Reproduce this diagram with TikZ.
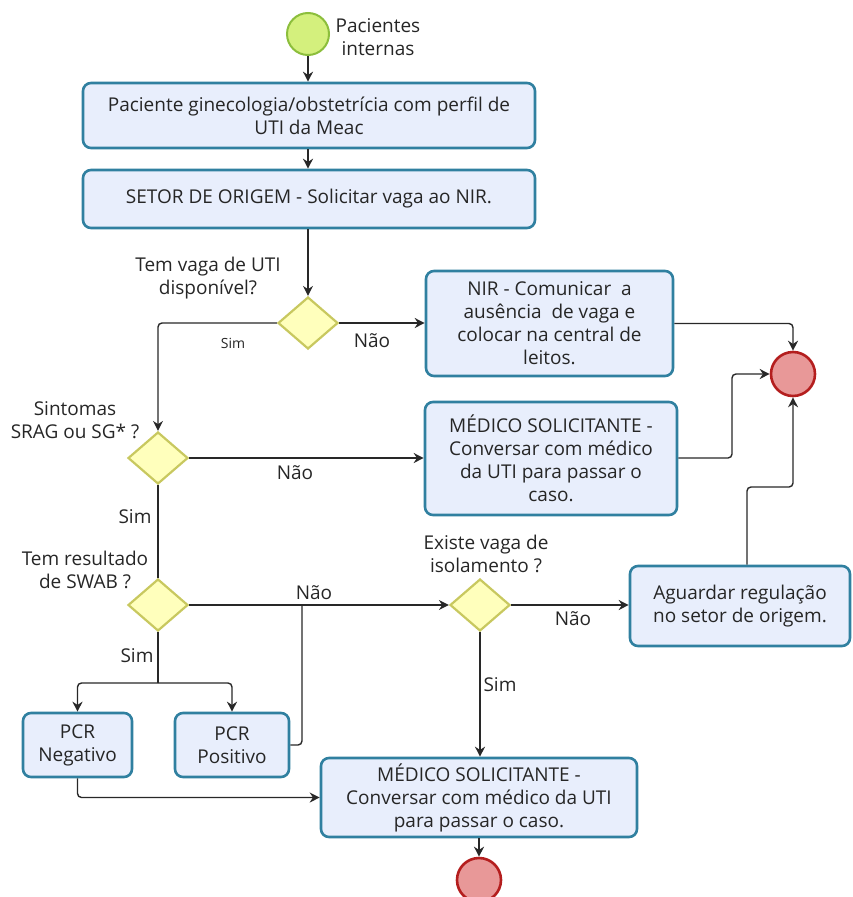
\documentclass[tikz,border=0pt]{standalone}
\usepackage{fontspec}
\setmainfont{Open Sans}
\usetikzlibrary{shapes.geometric,arrows.meta,calc}
\definecolor{boxfill}{RGB}{232,238,252}
\definecolor{boxline}{RGB}{48,128,160}
\definecolor{dfill}{RGB}{255,255,188}
\definecolor{dline}{RGB}{200,200,95}
\definecolor{sfill}{RGB}{212,240,125}
\definecolor{sline}{RGB}{140,190,60}
\definecolor{efill}{RGB}{232,152,152}
\definecolor{eline}{RGB}{180,30,30}
\definecolor{conn}{RGB}{40,40,40}
\begin{document}
\begin{tikzpicture}[x=1pt,y=-1pt,
  every node/.style={font=\fontsize{19}{23}\selectfont, text=black!85},
  procbox/.style={draw=boxline, fill=boxfill, line width=2.6pt, rounded corners=8pt, align=center, inner sep=2pt},
  decision/.style={diamond, draw=dline, fill=dfill, line width=2.2pt, minimum width=60pt, minimum height=52pt, inner sep=0pt},
  startev/.style={circle, draw=sline, fill=sfill, line width=2pt, minimum size=42pt, inner sep=0pt},
  endev/.style={circle, draw=eline, fill=efill, line width=2.6pt, minimum size=44pt, inner sep=0pt},
  lbl/.style={align=center, inner sep=0pt},
  small/.style={font=\fontsize{14}{17}\selectfont},
  flow/.style={draw=conn, line width=1.4pt, rounded corners=4pt},
  arr/.style={flow, -{Stealth[length=10pt,width=10pt]}}
]
\useasboundingbox (0,0) rectangle (853,897);

% nodes
\node[startev] (start) at (308,34) {};
\node[lbl] (startlbl) at (378,37) {Pacientes\\internas};
\node[procbox, minimum width=452pt, minimum height=65pt] (b1) at (309,115.5) {Paciente ginecologia/obstetrícia com perfil de\\UTI da Meac};
\node[procbox, minimum width=452pt, minimum height=58pt] (b2) at (309,199) {SETOR DE ORIGEM - Solicitar vaga ao NIR.};
\node[decision] (d1) at (308,323) {};
\node[lbl] (q1) at (208,278) {Tem vaga de UTI\\disponível?};
\node[procbox, minimum width=247pt, minimum height=105pt] (nir) at (549.5,323.5) {NIR - Comunicar \ a\\ausência \ de vaga e\\colocar na central de\\leitos.};
\node[endev] (end1) at (793,374) {};
\node[decision] (d2) at (158,458) {};
\node[lbl] (q2) at (75,420) {Sintomas\\SRAG ou SG* ?};
\node[procbox, minimum width=252pt, minimum height=113pt] (med1) at (551,458.5) {MÉDICO SOLICITANTE -\\Conversar com médico\\da UTI para passar o\\caso.};
\node[decision] (d3) at (158,605) {};
\node[lbl] (q3) at (85,570) {Tem resultado\\de SWAB ?};
\node[procbox, minimum width=109pt, minimum height=64pt] (pneg) at (77.5,745) {PCR\\Negativo};
\node[procbox, minimum width=114pt, minimum height=64pt] (ppos) at (232,745) {PCR\\Positivo};
\node[decision] (d4) at (480,605) {};
\node[lbl] (q4) at (486,554) {Existe vaga de\\isolamento ?};
\node[procbox, minimum width=220pt, minimum height=80pt] (agu) at (740,606) {Aguardar regulação\\no setor de origem.};
\node[procbox, minimum width=316pt, minimum height=79pt] (med2) at (479,797.5) {MÉDICO SOLICITANTE -\\Conversar com médico da UTI\\para passar o caso.};
\node[endev] (end2) at (479,880) {};

% connector labels
\node[lbl, small] (s1) at (233,343) {Sim};
\node[lbl] (n1) at (372,341) {Não};
\node[lbl] (n2) at (295,473) {Não};
\node[lbl] (s2) at (135,517) {Sim};
\node[lbl] (n3) at (314,593) {Não};
\node[lbl] (s3) at (137,656) {Sim};
\node[lbl] (n4) at (573,619) {Não};
\node[lbl] (s4) at (500,685) {Sim};

% helper coordinates
\coordinate (fork) at (158,683);
\coordinate (join) at (302,605);
\coordinate (m1turn) at (732,458);
\coordinate (aguturn) at (747,487);

% connectors
\draw[arr] (start.south) -- (start.south |- b1.north);
\draw[arr] (b1.south -| start) -- (b2.north -| start);
\draw[arr] (b2.south -| d1) -- (d1.north);
\draw[arr] (d1.west) -| (d2.north);
\draw[arr] (d1.east) -- (nir.west |- d1.east);
\draw[arr] (nir.east) -| (end1.north);
\draw[arr] (d2.east) -- (med1.west |- d2.east);
\draw[arr] (med1.east |- m1turn) -- (m1turn) |- (end1.west);
\draw[arr] (aguturn |- agu.north) -- (aguturn) -| (end1.south);
\draw[flow] (d2.south) -- (d3.north);
\draw[arr] (d3.east) -- (d4.west);
\draw[flow] (ppos.east) -| (join);
\draw[flow] (d3.south) -- (fork);
\draw[arr] (fork) -| (pneg.north);
\draw[arr] (fork) -| (ppos.north);
\draw[arr] (pneg.south) |- (med2.west);
\draw[arr] (d4.east) -- (agu.west |- d4.east);
\draw[arr] (d4.south) -- (med2.north -| d4.south);
\draw[arr] (med2.south -| end2) -- (end2.north);
\end{tikzpicture}
\end{document}
